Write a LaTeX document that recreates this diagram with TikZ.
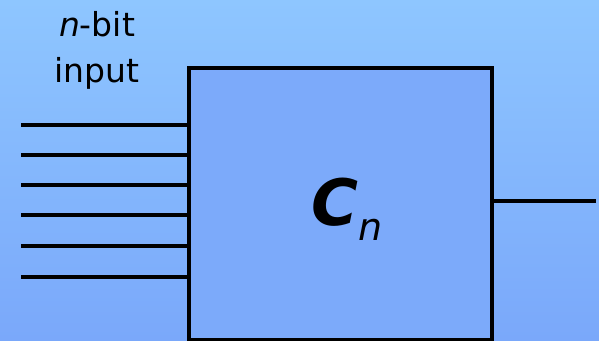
\documentclass[tikz,border=0pt]{standalone}
\usepackage{fontspec}
\setmainfont{DejaVu Sans}
\begin{document}
\begin{tikzpicture}[x=1pt,y=-1pt,
  wire/.style={line width=3.2pt,black},
  boxst/.style={draw=black,line width=3.6pt,fill=boxblue},
  lbl/.style={font=\fontsize{33}{46}\selectfont,align=center,inner sep=0pt}]
\definecolor{bgtop}{RGB}{142,198,255}
\definecolor{bgbot}{RGB}{122,168,250}
\definecolor{boxblue}{RGB}{124,170,250}
\useasboundingbox (0,0) rectangle (599,340);
\shade[top color=bgtop,bottom color=bgbot] (0,0) rectangle (599,340);
\node[boxst,minimum width=303pt,minimum height=272pt,inner sep=0pt,anchor=north west] (C) at (187,66) {};
\node[font=\fontsize{64}{64}\selectfont\itshape,inner sep=0pt,anchor=base west] (lab) at (311,225) {\textbf{C}\raisebox{-0.45ex}{\fontsize{38}{38}\selectfont n}};
\node[lbl] (in) at (97,50) {\textit{n}-bit\\input};
\foreach \i/\y in {1/125,2/155,3/185,4/215,5/246,6/277}{
  \coordinate (s\i) at (21,\y);
  \coordinate (e\i) at (187,\y);
  \draw[wire] (s\i) -- (e\i);
}
\coordinate (o1) at (C.east |- 0,201);
\coordinate (o2) at (596,201);
\draw[wire] (o1) -- (o2);
\end{tikzpicture}
\end{document}
